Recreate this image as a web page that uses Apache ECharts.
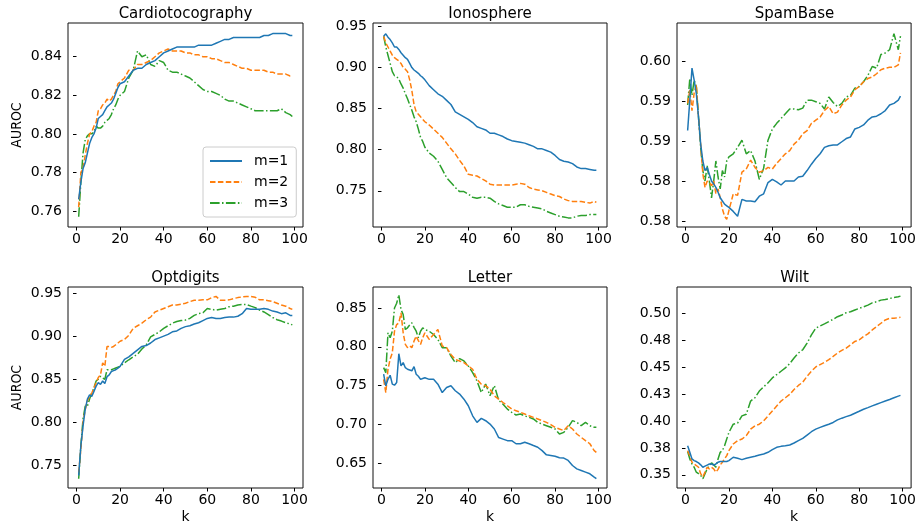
<!DOCTYPE html>
<html><head><meta charset="utf-8">
<script src="https://cdn.jsdelivr.net/npm/echarts@6/dist/echarts.min.js"></script>
<style>html,body{margin:0;padding:0;background:#fff}#c{width:919px;height:525px}</style>
</head><body><div id="c"></div>
<script>
// k values (x positions of sampled points)
const K = [1,2,3,4,5,6,7,8,9,10,11,12,13,14,15,16,17,18,19,20,
  22,24,26,28,30,32,34,36,38,40,42,44,46,48,50,52,54,56,58,60,
  62,64,66,68,70,72,74,76,78,80,82,84,86,88,90,92,94,96,98,99];

const seriesNames = ['m=1','m=2','m=3'];
const xTicks = [0,20,40,60,80,100];

// Cardiotocography
const cardioM1 = [.766,.775,.782,.785,.790,.795,.798,.800,.803,.808,.809,.810,.812,.814,.815,.816,.818,.821,.824,.826,
  .827,.830,.833,.834,.834,.836,.837,.838,.840,.842,.843,.844,.845,.845,.845,.845,.845,.846,.846,.846,
  .846,.847,.848,.849,.849,.850,.850,.850,.850,.850,.850,.850,.851,.851,.852,.852,.852,.852,.851,.851];
const cardioM2 = [.762,.780,.782,.789,.795,.800,.801,.804,.806,.812,.813,.815,.816,.818,.817,.818,.820,.822,.826,.827,
  .829,.833,.833,.836,.836,.837,.838,.840,.842,.843,.844,.843,.843,.843,.842,.842,.841,.841,.840,.840,
  .839,.839,.838,.837,.837,.836,.835,.834,.834,.833,.833,.833,.833,.832,.832,.831,.831,.831,.830,.830];
const cardioM3 = [.757,.775,.790,.797,.799,.800,.800,.801,.804,.803,.803,.804,.806,.807,.808,.810,.813,.815,.818,.820,
  .822,.829,.833,.843,.840,.841,.836,.835,.838,.837,.833,.832,.832,.831,.830,.829,.827,.825,.823,.822,
  .822,.821,.820,.818,.817,.817,.816,.815,.814,.813,.812,.812,.812,.812,.812,.812,.813,.811,.810,.809];
const cardioTicks = [0.76,0.78,0.80,0.82,0.84];
const cardioLabels = ['0.76','0.78','0.80','0.82','0.84'];

// Ionosphere
const ionoM1 = [.938,.941,.937,.934,.930,.925,.925,.922,.918,.915,.912,.910,.905,.900,.897,.895,.893,.890,.888,.885,
  .878,.873,.868,.865,.860,.855,.846,.843,.840,.837,.833,.828,.826,.824,.820,.820,.818,.816,.813,.811,
  .810,.809,.808,.806,.804,.801,.801,.799,.797,.793,.788,.786,.785,.783,.779,.777,.777,.776,.775,.775];
const ionoM2 = [.938,.930,.925,.920,.915,.912,.910,.908,.905,.900,.898,.895,.885,.872,.855,.846,.843,.840,.837,.834,
  .830,.825,.820,.815,.808,.801,.795,.787,.780,.770,.769,.768,.765,.762,.758,.757,.757,.757,.757,.757,
  .758,.759,.758,.754,.752,.751,.750,.748,.746,.744,.743,.740,.738,.737,.737,.737,.736,.735,.737,.736];
const ionoM3 = [.938,.925,.915,.905,.895,.890,.889,.886,.880,.875,.868,.862,.855,.848,.840,.834,.825,.815,.810,.803,
  .796,.792,.786,.776,.766,.760,.754,.749,.749,.746,.742,.741,.742,.742,.741,.737,.734,.732,.730,.730,
  .730,.733,.733,.731,.730,.729,.728,.725,.723,.721,.719,.718,.717,.717,.719,.720,.720,.721,.721,.721];
const ionoTicks = [0.75,0.80,0.85,0.90,0.95];
const ionoLabels = ['0.75','0.80','0.85','0.90','0.95'];

// SpamBase
const spamM1 = [.5913,.5951,.5991,.5976,.5959,.5930,.5896,.5875,.5863,.5867,.5858,.5850,.5846,.5842,.5836,.5829,.5825,.5821,.5819,.5817,
  .5812,.5806,.5827,.5825,.5825,.5824,.5831,.5834,.5848,.5852,.5849,.5845,.5850,.5850,.5850,.5855,.5856,.5863,.5871,.5878,
  .5884,.5892,.5894,.5895,.5895,.5899,.5903,.5905,.5915,.5917,.5920,.5926,.5930,.5931,.5934,.5938,.5945,.5947,.5951,.5956];
const spamM2 = [.5947,.5964,.5938,.5960,.5970,.5930,.5896,.5859,.5842,.5850,.5848,.5844,.5850,.5834,.5840,.5829,.5815,.5806,.5802,.5813,
  .5834,.5832,.5861,.5865,.5876,.5867,.5861,.5863,.5867,.5865,.5872,.5878,.5884,.5888,.5896,.5901,.5909,.5913,.5922,.5926,
  .5930,.5938,.5943,.5934,.5936,.5945,.5951,.5955,.5964,.5968,.5974,.5978,.5980,.5984,.5989,.5991,.5992,.5992,.5995,.6010];
const spamM3 = [.5945,.5978,.5957,.5976,.5968,.5930,.5892,.5863,.5850,.5869,.5850,.5829,.5850,.5875,.5855,.5840,.5863,.5855,.5875,.5880,
  .5884,.5892,.5901,.5884,.5888,.5875,.5852,.5866,.5901,.5915,.5922,.5928,.5934,.5940,.5940,.5939,.5941,.5951,.5951,.5949,
  .5947,.5940,.5955,.5948,.5943,.5947,.5955,.5957,.5966,.5968,.5974,.5982,.5993,.5991,.6008,.6010,.6014,.6034,.6014,.6031];
const spamTicks = [0.580,0.585,0.590,0.595,0.600];
const spamLabels = ['0.58','0.58','0.59','0.59','0.60'];

// Optdigits
const optM1 = [.7385,.773,.796,.815,.827,.832,.830,.836,.842,.846,.844,.848,.845,.853,.855,.859,.860,.861,.863,.865,
  .873,.876,.880,.884,.888,.889,.892,.896,.898,.900,.902,.905,.906,.909,.911,.912,.914,.9155,.918,.9205,
  .9216,.9205,.9205,.9216,.922,.922,.923,.926,.932,.931,.931,.931,.932,.931,.929,.928,.926,.927,.924,.924];
const optM2 = [.742,.769,.800,.815,.825,.830,.834,.840,.846,.852,.855,.869,.865,.888,.888,.887,.888,.890,.892,.894,
  .896,.901,.909,.912,.915,.919,.922,.928,.930,.932,.934,.936,.936,.937,.938,.940,.9416,.9416,.942,.942,
  .9446,.946,.9416,.9416,.942,.9435,.9446,.9454,.946,.946,.945,.942,.942,.941,.940,.938,.936,.9347,.932,.931];
const optM3 = [.7347,.773,.804,.819,.819,.827,.834,.840,.848,.850,.8535,.8515,.850,.861,.861,.861,.862,.863,.864,.865,
  .869,.8726,.876,.879,.885,.890,.899,.902,.905,.909,.912,.915,.917,.918,.9186,.9205,.924,.926,.927,.932,
  .931,.930,.931,.932,.934,.9347,.936,.9366,.9366,.9347,.933,.930,.928,.925,.9216,.919,.9174,.9155,.914,.913];
const optTicks = [0.75,0.80,0.85,0.90,0.95];
const optLabels = ['0.75','0.80','0.85','0.90','0.95'];

// Letter
const letterM1 = [.7646,.7497,.758,.7633,.7518,.7505,.754,.791,.7753,.7795,.773,.771,.770,.769,.7744,.7646,.762,.758,.759,.760,
  .758,.758,.7518,.741,.7475,.7497,.7433,.739,.7325,.724,.711,.7026,.7077,.7047,.7004,.694,.683,.681,.679,.679,
  .675,.675,.677,.675,.6727,.6705,.6662,.6607,.660,.659,.657,.6565,.6535,.647,.6427,.6406,.6385,.6363,.632,.630];
const letterM2 = [.758,.741,.771,.784,.7923,.820,.8286,.8308,.8436,.818,.803,.7988,.801,.7988,.8073,.8137,.808,.803,.8116,.818,
  .8094,.8158,.8222,.801,.7988,.790,.7838,.7817,.7795,.7753,.771,.758,.7518,.7497,.7454,.7368,.7325,.7282,.724,.7197,
  .7176,.7155,.7133,.711,.709,.707,.7048,.7026,.6996,.6962,.694,.692,.6983,.694,.6876,.6833,.679,.675,.6662,.664];
const letterM3 = [.7731,.7667,.818,.8116,.820,.850,.856,.867,.8479,.8415,.8222,.8244,.8280,.8308,.8250,.820,.8116,.820,.8244,.8222,
  .820,.8158,.8094,.7988,.7988,.788,.7795,.7847,.7817,.7753,.7667,.756,.741,.752,.737,.750,.731,.726,.7197,.7155,
  .712,.7133,.711,.709,.707,.7026,.7004,.6983,.6962,.694,.6876,.6897,.6962,.7048,.7026,.6983,.7026,.6983,.6962,.6962];
const letterTicks = [0.65,0.70,0.75,0.80,0.85];
const letterLabels = ['0.65','0.70','0.75','0.80','0.85'];

// Wilt
const wiltM1 = [.377,.371,.3647,.3632,.3623,.361,.3592,.357,.358,.359,.360,.360,.359,.360,.3617,.3623,.3623,.3623,.3623,.3632,
  .3663,.3654,.3641,.3654,.3663,.3672,.3684,.3693,.3709,.3733,.3755,.3764,.377,.3777,.3795,.3817,.3838,.3869,.390,.3924,
  .394,.3955,.397,.3986,.401,.4026,.404,.4053,.4072,.409,.4109,.4124,.414,.4155,.417,.4185,.420,.4216,.4231,.4238];
const wiltM2 = [.3724,.3678,.3617,.360,.3586,.357,.351,.348,.3524,.357,.3555,.357,.3555,.3524,.355,.3592,.3617,.3647,.3678,.3724,
  .3786,.3817,.3832,.3863,.3924,.3955,.397,.4001,.4047,.4093,.4139,.4185,.4216,.4247,.4293,.433,.436,.4416,.4462,.4502,
  .4524,.4545,.457,.460,.4631,.4656,.4677,.4708,.4739,.4754,.4785,.4809,.4846,.4877,.4908,.4939,.4954,.4954,.496,.4963];
const wiltM3 = [.3715,.3647,.360,.357,.3524,.351,.3494,.3463,.351,.3555,.3586,.361,.3592,.357,.3647,.3709,.3724,.377,.3832,.3893,
  .397,.398,.4047,.4062,.4185,.4216,.4278,.4318,.4354,.440,.4431,.4462,.4493,.4533,.4585,.4631,.4662,.4723,.480,.4862,
  .4883,.4902,.4923,.4945,.4969,.4985,.5006,.5015,.5031,.5046,.5061,.5077,.5098,.5108,.5123,.5129,.5138,.5148,.5154,.516];
const wiltTicks = [0.350,0.375,0.400,0.425,0.450,0.475,0.500];
const wiltLabels = ['0.35','0.38','0.40','0.43','0.45','0.48','0.50'];

const titles = ['Cardiotocography','Ionosphere','SpamBase','Optdigits','Letter','Wilt'];

const panels = [
  {data:[cardioM1,cardioM2,cardioM3], ticks:cardioTicks, labels:cardioLabels, yMin:0.7517, yMax:0.8575},
  {data:[ionoM1,ionoM2,ionoM3], ticks:ionoTicks, labels:ionoLabels, yMin:0.7059, yMax:0.9542},
  {data:[spamM1,spamM2,spamM3], ticks:spamTicks, labels:spamLabels, yMin:0.57925, yMax:0.60474},
  {data:[optM1,optM2,optM3], ticks:optTicks, labels:optLabels, yMin:0.724, yMax:0.9569},
  {data:[letterM1,letterM2,letterM3], ticks:letterTicks, labels:letterLabels, yMin:0.618, yMax:0.877},
  {data:[wiltM1,wiltM2,wiltM3], ticks:wiltTicks, labels:wiltLabels, yMin:0.3377, yMax:0.5245}
];

const colLeft = [68, 373, 677];
const colWidth = [235, 234, 235];
const rowTop = [23, 287];
const rowHeight = [204, 202];
const FONT = 'DejaVu Sans';
const colors = ['#1f77b4','#ff7f0e','#2ca02c'];
const dashes = ['solid',[5.5,2.4],[9.6,2.4,1.5,2.4]];

const grids = [], xAxes = [], yAxes = [], series = [], graphics = [];
panels.forEach((p, i) => {
  const r = Math.floor(i / 3), c = i % 3;
  grids.push({left: colLeft[c], top: rowTop[r], width: colWidth[c], height: rowHeight[r],
    show: true, borderColor: '#111', borderWidth: 1, backgroundColor: '#fff', containLabel: false});
  xAxes.push({type: 'value', gridIndex: i, min: -3.9, max: 103.9,
    splitLine: {show: false}, axisLine: {show: false},
    axisTick: {show: true, length: 3.5, inside: false, lineStyle: {color: '#000', width: 1}, customValues: xTicks},
    axisLabel: {show: true, color: '#000', fontFamily: FONT, fontSize: 14, margin: 5, customValues: xTicks,
      formatter: v => String(Math.round(v))},
    name: r === 1 ? 'k' : '', nameLocation: 'middle', nameGap: 22,
    nameTextStyle: {color: '#000', fontFamily: FONT, fontSize: 14}});
  yAxes.push({type: 'value', gridIndex: i, min: p.yMin, max: p.yMax,
    splitLine: {show: false}, axisLine: {show: false},
    axisTick: {show: true, length: 3.5, inside: false, lineStyle: {color: '#000', width: 1}, customValues: p.ticks},
    axisLabel: {show: true, color: '#000', fontFamily: FONT, fontSize: 14, margin: 6, customValues: p.ticks,
      formatter: v => { let best = 0, bd = 1e9; p.ticks.forEach((t, j) => { const d = Math.abs(t - v); if (d < bd) { bd = d; best = j; } }); return p.labels[best]; }},
    name: c === 0 ? 'AUROC' : '', nameLocation: 'middle', nameGap: 44, nameRotate: 90,
    nameTextStyle: {color: '#000', fontFamily: '"DejaVu Sans Condensed", "DejaVu Sans"', fontSize: 14}});
  p.data.forEach((vals, s) => {
    series.push({type: 'line', name: seriesNames[s], xAxisIndex: i, yAxisIndex: i,
      data: K.map((k, j) => [k, vals[j]]), symbol: 'none', showSymbol: false,
      lineStyle: {color: colors[s], width: 1.5, type: dashes[s]}, itemStyle: {color: colors[s]},
      animation: false, z: 3 - s});
  });
  graphics.push({type: 'text', x: colLeft[c] + colWidth[c] / 2, y: rowTop[r] - 9,
    style: {text: titles[i], fill: '#000', font: '15px "DejaVu Sans"', align: 'center', verticalAlign: 'middle',
      textAlign: 'center', textVerticalAlign: 'middle'}});
});

const chart = echarts.init(document.getElementById('c'), null, {renderer: 'canvas'});
chart.setOption({
  animation: false,
  backgroundColor: '#fff',
  grid: grids, xAxis: xAxes, yAxis: yAxes, series: series,
  graphic: graphics,
  legend: {data: seriesNames, orient: 'vertical', left: 203, top: 147,
    itemWidth: 32, itemHeight: 14, itemGap: 7,
    itemStyle: {opacity: 0},
    padding: [7, 8, 7, 6], borderColor: '#ccc', borderWidth: 1, borderRadius: 3,
    backgroundColor: 'rgba(255,255,255,0.8)',
    textStyle: {color: '#000', fontFamily: FONT, fontSize: 14, padding: [0, 0, 0, 7]}}
});
</script></body></html>
